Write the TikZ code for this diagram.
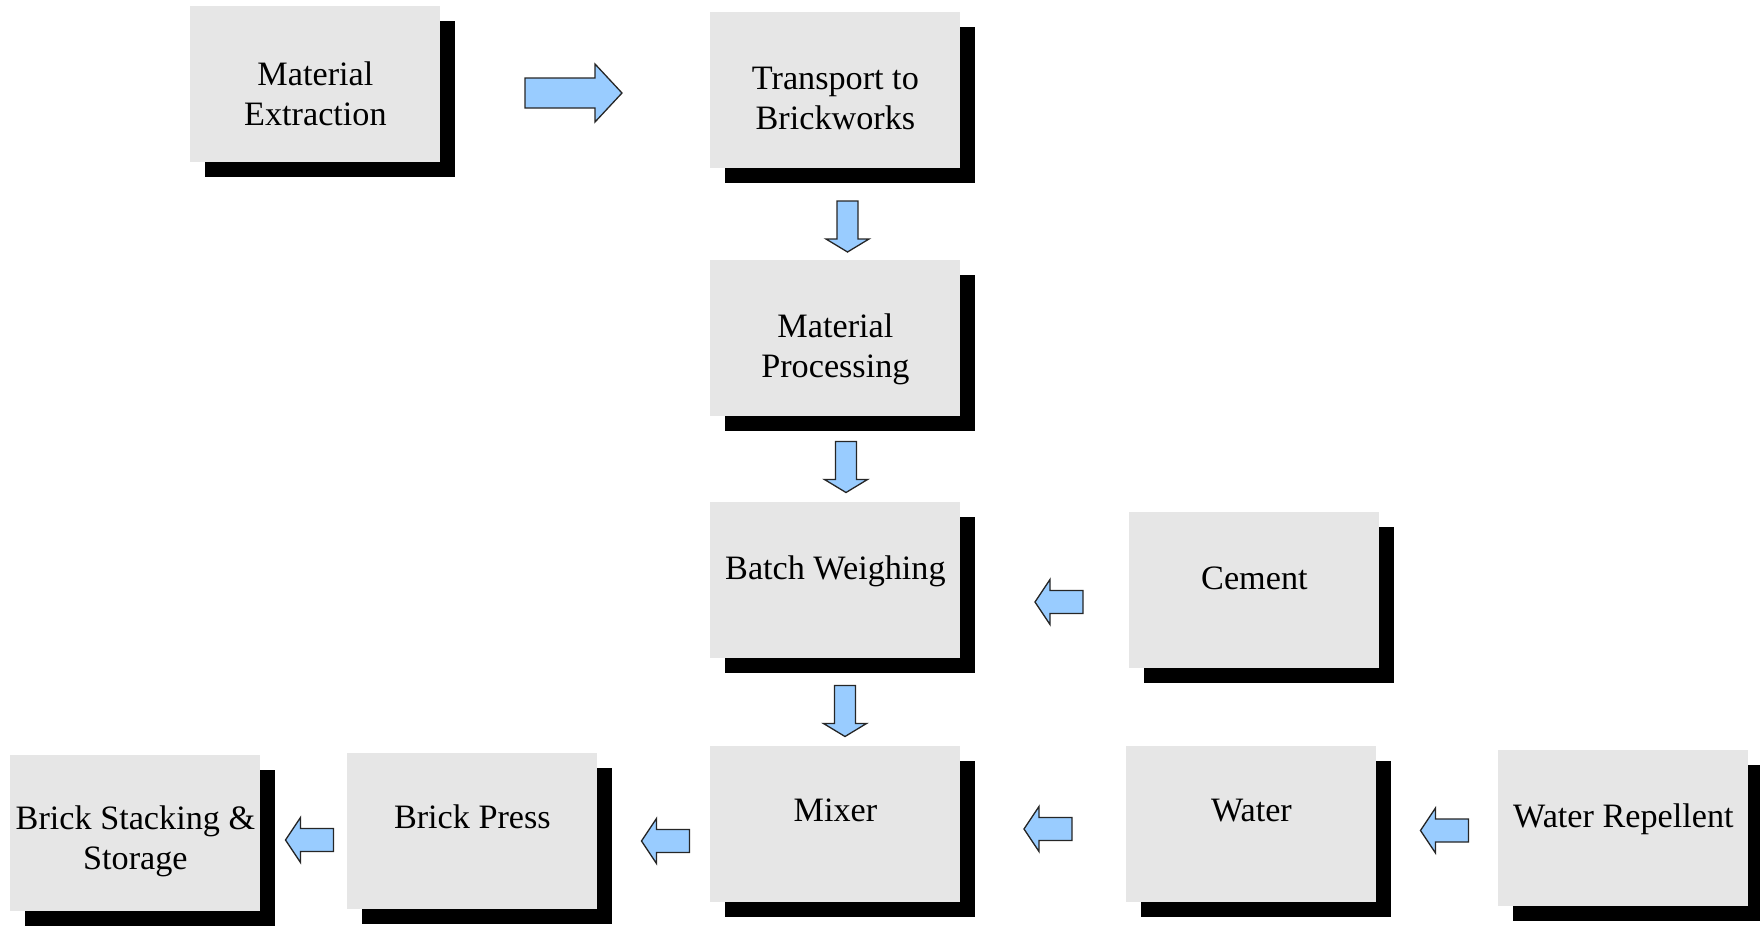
\documentclass[tikz,border=0pt]{standalone}
\usepackage{fontspec}
\setmainfont{Liberation Serif}
\usetikzlibrary{shadows}
\definecolor{boxgray}{HTML}{E6E6E6}
\definecolor{arrowblue}{HTML}{99CCFF}
\newcommand\boxtext[2][38.5pt]{\parbox[c][78pt][t]{125pt}{\centering\rule{0pt}{#1}#2\par}}
% #1 coordinate, #2 angle, #3 length, #4 head length, #5 shaft width, #6 head width
\newcommand\blockarrow[6]{%
  \draw[barrow,shift={(#1)},rotate=#2]
    (-#3/2,-#5/2) -- (#3/2-#4,-#5/2) -- (#3/2-#4,-#6/2) -- (#3/2,0)
    -- (#3/2-#4,#6/2) -- (#3/2-#4,#5/2) -- (-#3/2,#5/2) -- cycle;}
\begin{document}
\begin{tikzpicture}[x=0.5pt,y=-0.5pt,
  stepbox/.style={fill=boxgray, inner sep=0pt, anchor=north west,
    font=\fontsize{17.1}{20}\selectfont,
    drop shadow={shadow xshift=7.5pt, shadow yshift=-7.5pt, fill=black, opacity=1}},
  barrow/.style={fill=arrowblue, draw=black!85, line width=0.65pt, line join=miter}]
\useasboundingbox (0,0) rectangle (1760,926);
\node[stepbox] (ext)   at (190,6)    {\boxtext[39.5pt]{Material\\Extraction}};
\node[stepbox] (trans) at (710,12)   {\boxtext{Transport to\\Brickworks}};
\node[stepbox] (proc)  at (710,260)  {\boxtext{Material\\Processing}};
\node[stepbox] (batch) at (710,502)  {\boxtext{Batch Weighing}};
\node[stepbox] (mixer) at (710,746)  {\boxtext[37.3pt]{Mixer}};
\node[stepbox] (cem)   at (1129,512) {\boxtext{Cement}};
\node[stepbox] (water) at (1126,746) {\boxtext[37.3pt]{Water}};
\node[stepbox] (rep)   at (1498,750) {\boxtext{Water Repellent}};
\node[stepbox] (press) at (347,753)  {\boxtext[37.3pt]{Brick Press}};
\node[stepbox] (stack) at (10,755)   {\boxtext[37pt]{Brick Stacking \&\\Storage}};
% block arrows
\coordinate (a1) at (573.5,93);
\coordinate (d1) at (847.5,226.5);
\coordinate (d2) at (846,467);
\coordinate (d3) at (845,711);
\coordinate (l1) at (1059,602);
\coordinate (l2) at (1048,829);
\coordinate (l3) at (1444.5,830.5);
\coordinate (l4) at (665.5,841);
\coordinate (l5) at (309.5,840);
\blockarrow{a1}{0}{97}{27}{30}{58}
\blockarrow{d1}{-90}{51}{13}{21}{43}
\blockarrow{d2}{-90}{51}{13}{21}{43}
\blockarrow{d3}{-90}{51}{13}{21}{43}
\blockarrow{l1}{180}{48}{15}{23}{45}
\blockarrow{l2}{180}{48}{15}{23}{45}
\blockarrow{l3}{180}{48}{15}{23}{45}
\blockarrow{l4}{180}{48}{15}{23}{45}
\blockarrow{l5}{180}{48}{15}{23}{45}
\end{tikzpicture}
\end{document}
